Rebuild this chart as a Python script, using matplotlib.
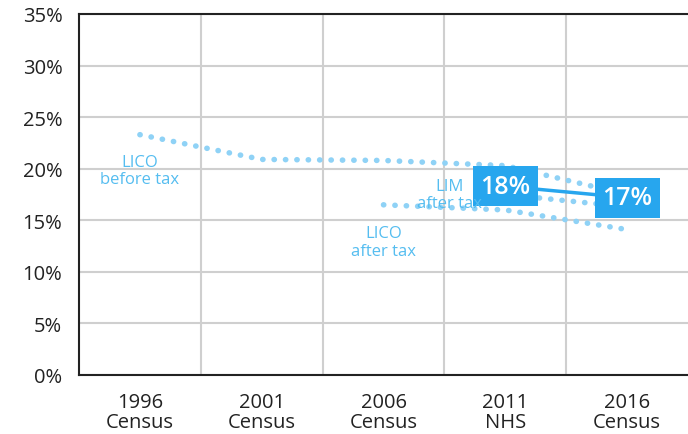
import numpy as np
import matplotlib
matplotlib.use("Agg")
import matplotlib.pyplot as plt

categories = ["1996\nCensus", "2001\nCensus", "2006\nCensus", "2011\nNHS", "2016\nCensus"]
lico_before = [23.3, 20.9, 20.8, 20.3, 17.5]
lico_after = [np.nan, np.nan, 16.5, 16.0, 14.1]
lim_after = [np.nan, np.nan, np.nan, 17.5, 16.3]
lim_box_vals = [18.3, 17.2]
lim_box_text = ["18%", "17%"]
lim_box_idx = [3, 4]
yticks = [0, 5, 10, 15, 20, 25, 30, 35]
ytick_labels = ["0%", "5%", "10%", "15%", "20%", "25%", "30%", "35%"]

plt.rcParams['font.family'] = ['Open Sans', 'DejaVu Sans']

dot_col = "#8fd2f6"
txt_col = "#55bdf0"
box_col = "#27a6ee"

fig = plt.figure(figsize=(6.88, 4.35), dpi=100)
ax = fig.add_axes([79/688, 1-376/435, 1-79/688, (376-15)/435])

x = np.arange(len(categories))
dot_style = dict(color=dot_col, lw=4.0, linestyle=(0, (0.05, 2.0)),
                 dash_capstyle="round", solid_capstyle="round", zorder=3)
ax.plot(x, lico_before, **dot_style)
ax.plot(x, lico_after, **dot_style)
ax.plot(x, lim_after, **dot_style)

ax.plot(lim_box_idx, lim_box_vals, color=box_col, lw=2.5, zorder=4)
for i, v, t in zip(lim_box_idx, lim_box_vals, lim_box_text):
    ax.text(i, v, t, ha="center", va="center", color="white", fontsize=18,
            fontweight="semibold", zorder=5,
            bbox=dict(boxstyle="square,pad=0.3", fc=box_col, ec="none"))

lab = dict(ha="center", va="center", color=txt_col, fontsize=12,
           linespacing=1.1, zorder=6)
ax.text(0, 19.8, "LICO\nbefore tax", **lab)
ax.text(2.54, 17.5, "LIM\nafter tax", **lab)
ax.text(2.0, 12.9, "LICO\nafter tax", **lab)

ax.set_xlim(-0.5, len(categories) - 0.5)
ax.set_ylim(0, 35)
ax.set_yticks(yticks)
ax.set_yticklabels(ytick_labels)
ax.set_xticks(x)
ax.set_xticklabels(categories, linespacing=1.0)
ax.set_xticks(np.arange(0.5, len(categories) - 0.5, 1), minor=True)
ax.tick_params(axis="both", which="both", length=0, labelsize=14.5, colors="#222222")
ax.tick_params(axis="y", pad=12)
ax.tick_params(axis="x", pad=12)
ax.grid(axis="y", which="major", color="#cfcfcf", lw=1.5)
ax.grid(axis="x", which="minor", color="#cfcfcf", lw=1.5)
ax.grid(axis="x", which="major", visible=False)
ax.set_axisbelow(True)
for s in ["left", "bottom", "top"]:
    ax.spines[s].set_color("#222222")
    ax.spines[s].set_linewidth(1.5)
ax.spines["right"].set_visible(False)

fig.savefig("out.png", dpi=100)
